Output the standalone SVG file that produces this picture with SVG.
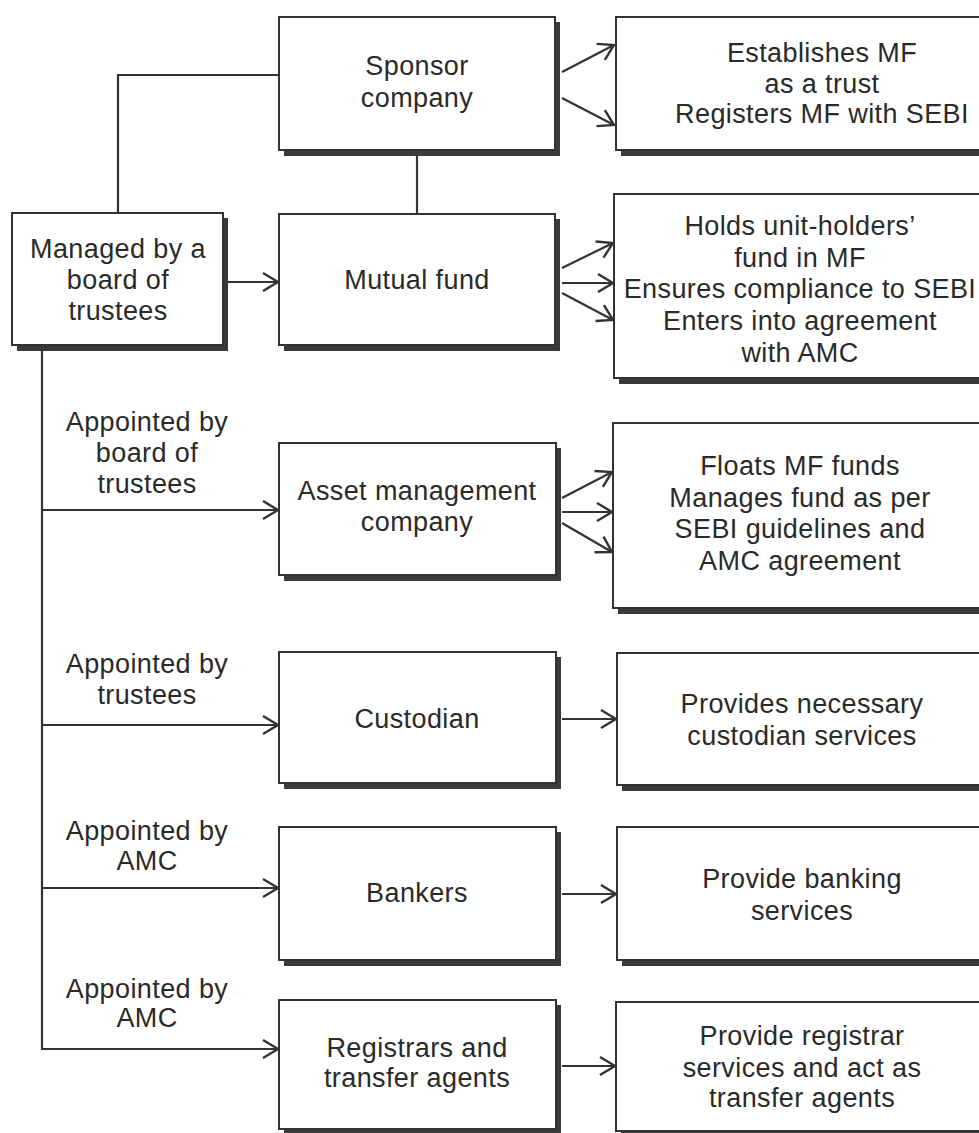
<svg xmlns="http://www.w3.org/2000/svg" width="979" height="1133" viewBox="0 0 979 1133">
<style>
.box{fill:#fff;stroke:#333;stroke-width:2}
.sh{fill:#3a3a3a}
.t{font-family:"Liberation Sans",Arial,Helvetica,sans-serif;font-size:27px;letter-spacing:0.4px;fill:#2a2a2a;text-anchor:middle}
.ln{fill:none;stroke:#333;stroke-width:2.2}
.ar{fill:none;stroke:#333;stroke-width:2.2;marker-end:url(#ah)}
</style>
<defs>
<marker id="ah" markerUnits="userSpaceOnUse" markerWidth="20" markerHeight="22" viewBox="-17 -11 19 22" refX="0" refY="0" orient="auto" overflow="visible">
<path d="M-15,-9 L0,0 L-15,9" fill="none" stroke="#333" stroke-width="2.4" stroke-linejoin="miter"/>
</marker>
</defs>
<rect width="979" height="1133" fill="#fff"/>

<g id="connectors">
<polyline class="ln" points="279,75 118,75 118,213"/>
<line class="ln" x1="417" y1="155" x2="417" y2="214"/>
<line class="ar" x1="228" y1="282" x2="278" y2="282"/>
<line class="ln" x1="42" y1="351" x2="42" y2="1050"/>
<line class="ar" x1="41" y1="510" x2="278" y2="510"/>
<line class="ar" x1="41" y1="725" x2="278" y2="725"/>
<line class="ar" x1="41" y1="888" x2="278" y2="888"/>
<line class="ar" x1="41" y1="1049" x2="278" y2="1049"/>
<line class="ar" x1="562" y1="72" x2="614" y2="45"/>
<line class="ar" x1="562" y1="98" x2="614" y2="125"/>
<line class="ar" x1="562" y1="268" x2="613" y2="243"/>
<line class="ar" x1="562" y1="283" x2="613" y2="283"/>
<line class="ar" x1="562" y1="293" x2="613" y2="320"/>
<line class="ar" x1="562" y1="498" x2="612" y2="472"/>
<line class="ar" x1="562" y1="512" x2="612" y2="512"/>
<line class="ar" x1="562" y1="523" x2="612" y2="552"/>
<line class="ar" x1="562" y1="719" x2="616" y2="719"/>
<line class="ar" x1="562" y1="894" x2="616" y2="894"/>
<line class="ar" x1="562" y1="1066" x2="615" y2="1066"/>
</g>

<g id="labels">
<text class="t"><tspan x="147" y="431">Appointed by</tspan><tspan x="147" y="462">board of</tspan><tspan x="147" y="493">trustees</tspan></text>
<text class="t"><tspan x="147" y="673">Appointed by</tspan><tspan x="147" y="704">trustees</tspan></text>
<text class="t"><tspan x="147" y="840">Appointed by</tspan><tspan x="147" y="870">AMC</tspan></text>
<text class="t"><tspan x="147" y="998">Appointed by</tspan><tspan x="147" y="1027">AMC</tspan></text>
</g>

<g id="managed">
<rect class="sh" x="17" y="218" width="211" height="133"/>
<rect class="box" x="12" y="213" width="211" height="132"/>
<text class="t"><tspan x="118" y="258">Managed by a</tspan><tspan x="118" y="289">board of</tspan><tspan x="118" y="320">trustees</tspan></text>
</g>

<g id="sponsor">
<rect class="sh" x="284" y="22" width="276" height="134"/>
<rect class="box" x="279" y="17" width="276" height="133"/>
<text class="t"><tspan x="417" y="75">Sponsor</tspan><tspan x="417" y="107">company</tspan></text>
</g>

<g id="mutual">
<rect class="sh" x="284" y="219" width="276" height="132"/>
<rect class="box" x="279" y="214" width="276" height="131"/>
<text class="t" x="417" y="289">Mutual fund</text>
</g>

<g id="amc">
<rect class="sh" x="284" y="448" width="277" height="133"/>
<rect class="box" x="279" y="443" width="277" height="132"/>
<text class="t"><tspan x="417" y="500">Asset management</tspan><tspan x="417" y="531">company</tspan></text>
</g>

<g id="custodian">
<rect class="sh" x="284" y="657" width="277" height="132"/>
<rect class="box" x="279" y="652" width="277" height="131"/>
<text class="t" x="417" y="728">Custodian</text>
</g>

<g id="bankers">
<rect class="sh" x="284" y="832" width="277" height="134"/>
<rect class="box" x="279" y="827" width="277" height="133"/>
<text class="t" x="417" y="902">Bankers</text>
</g>

<g id="registrars">
<rect class="sh" x="284" y="1005" width="277" height="130"/>
<rect class="box" x="279" y="1000" width="277" height="129"/>
<text class="t"><tspan x="417" y="1057">Registrars and</tspan><tspan x="417" y="1087">transfer agents</tspan></text>
</g>

<g id="establishes">
<rect class="sh" x="621" y="22" width="400" height="134"/>
<rect class="box" x="616" y="17" width="400" height="133"/>
<text class="t"><tspan x="822" y="62">Establishes MF</tspan><tspan x="822" y="93">as a trust</tspan><tspan x="822" y="123">Registers MF with SEBI</tspan></text>
</g>

<g id="holds">
<rect class="sh" x="619" y="199" width="400" height="185"/>
<rect class="box" x="614" y="194" width="400" height="184"/>
<text class="t"><tspan x="800" y="235">Holds unit-holders’</tspan><tspan x="800" y="267">fund in MF</tspan><tspan x="800" y="298">Ensures compliance to SEBI</tspan><tspan x="800" y="330">Enters into agreement</tspan><tspan x="800" y="362">with AMC</tspan></text>
</g>

<g id="floats">
<rect class="sh" x="618" y="428" width="400" height="186"/>
<rect class="box" x="613" y="423" width="400" height="185"/>
<text class="t"><tspan x="800" y="475">Floats MF funds</tspan><tspan x="800" y="507">Manages fund as per</tspan><tspan x="800" y="538">SEBI guidelines and</tspan><tspan x="800" y="570">AMC agreement</tspan></text>
</g>

<g id="provides">
<rect class="sh" x="622" y="658" width="400" height="133"/>
<rect class="box" x="617" y="653" width="400" height="132"/>
<text class="t"><tspan x="802" y="713">Provides necessary</tspan><tspan x="802" y="745">custodian services</tspan></text>
</g>

<g id="banking">
<rect class="sh" x="622" y="832" width="400" height="134"/>
<rect class="box" x="617" y="827" width="400" height="133"/>
<text class="t"><tspan x="802" y="888">Provide banking</tspan><tspan x="802" y="920">services</tspan></text>
</g>

<g id="registrar-services">
<rect class="sh" x="621" y="1007" width="400" height="130"/>
<rect class="box" x="616" y="1002" width="400" height="129"/>
<text class="t"><tspan x="802" y="1045">Provide registrar</tspan><tspan x="802" y="1077">services and act as</tspan><tspan x="802" y="1107">transfer agents</tspan></text>
</g>
</svg>
